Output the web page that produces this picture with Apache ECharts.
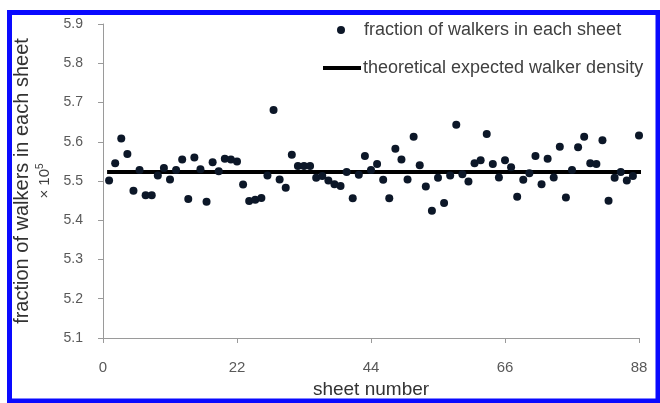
<!DOCTYPE html>
<html>
<head>
<meta charset="utf-8">
<style>
  html, body { margin: 0; padding: 0; background: #ffffff; }
  #chart { width: 660px; height: 403px; }
</style>
<script src="https://cdn.jsdelivr.net/npm/echarts@6/dist/echarts.min.js"></script>
</head>
<body>
<div id="chart"></div>
<script>
// Sheet index for each measurement
const sheetNumbers = [
  1, 2, 3, 4, 5, 6, 7, 8, 9, 10, 11, 12, 13, 14, 15, 16, 17, 18, 19, 20, 21, 22,
  23, 24, 25, 26, 27, 28, 29, 30, 31, 32, 33, 34, 35, 36, 37, 38, 39, 40, 41, 42, 43, 44,
  45, 46, 47, 48, 49, 50, 51, 52, 53, 54, 55, 56, 57, 58, 59, 60, 61, 62, 63, 64, 65, 66,
  67, 68, 69, 70, 71, 72, 73, 74, 75, 76, 77, 78, 79, 80, 81, 82, 83, 84, 85, 86, 87, 88
];

// Fraction of walkers found in each sheet (x 10^-5)
const walkerFraction = [
  5.501, 5.545, 5.608, 5.569, 5.475, 5.528, 5.464, 5.464, 5.514, 5.533, 5.504,
  5.528, 5.555, 5.454, 5.560, 5.530, 5.447, 5.548, 5.525, 5.557, 5.555, 5.550,
  5.491, 5.449, 5.452, 5.457, 5.514, 5.681, 5.504, 5.483, 5.567, 5.538, 5.538,
  5.538, 5.508, 5.513, 5.501, 5.492, 5.487, 5.523, 5.456, 5.516, 5.564, 5.528,
  5.543, 5.503, 5.456, 5.582, 5.555, 5.504, 5.613, 5.540, 5.486, 5.424, 5.508,
  5.444, 5.514, 5.643, 5.517, 5.499, 5.545, 5.553, 5.620, 5.543, 5.509, 5.553,
  5.535, 5.460, 5.503, 5.520, 5.564, 5.492, 5.557, 5.509, 5.587, 5.458, 5.528,
  5.586, 5.613, 5.545, 5.543, 5.604, 5.450, 5.508, 5.523, 5.501, 5.513, 5.616
];

// Theoretical expected density, drawn across the sheet range
const expectedSheets = [1, 88];
const expectedDensity = [5.523, 5.523];

// Axis settings
const xTicks = { min: 0, max: 88, interval: 22 };
const yTicks = { min: 5.1, max: 5.9, interval: 0.1 };

const seriesNames = ['fraction of walkers in each sheet', 'theoretical expected walker density'];

const scatterData = sheetNumbers.map((s, i) => [s, walkerFraction[i]]);
const lineData = expectedSheets.map((s, i) => [s, expectedDensity[i]]);

const FONT = '"Liberation Sans", Arial, sans-serif';
const axisGray = '#9a9a9a';

const chart = echarts.init(document.getElementById('chart'), null, { renderer: 'canvas' });

chart.setOption({
  backgroundColor: '#ffffff',
  animation: false,
  textStyle: { fontFamily: FONT },
  grid: { left: 103, right: 21, top: 24, bottom: 65, containLabel: false, outerBoundsMode: 'none' },
  graphic: [{
    type: 'rect',
    shape: { x: 9.5, y: 12.5, width: 648.5, height: 388.5 },
    style: { fill: 'none', stroke: '#0a0aff', lineWidth: 5 },
    z: 100
  }],
  legend: [{
    data: [{ name: seriesNames[0], icon: 'circle' }],
    left: 332, top: 16,
    itemWidth: 8, itemHeight: 8,
    textStyle: { fontSize: 18, color: '#404040', fontFamily: FONT, padding: [0, 0, 0, 14] },
    selectedMode: false
  }, {
    data: [{ name: seriesNames[1], icon: 'rect' }],
    left: 318, top: 54,
    itemWidth: 38, itemHeight: 4,
    textStyle: { fontSize: 18, color: '#404040', fontFamily: FONT, padding: [0, 0, 0, -3] },
    selectedMode: false
  }],
  xAxis: {
    type: 'value',
    min: xTicks.min, max: xTicks.max, interval: xTicks.interval,
    splitLine: { show: false },
    axisLine: { lineStyle: { color: axisGray, width: 1 } },
    axisTick: { show: true, length: 5, lineStyle: { color: axisGray } },
    axisLabel: { fontSize: 15, color: '#595959', margin: 22, fontFamily: FONT },
    name: 'sheet number',
    nameLocation: 'middle',
    nameGap: 33,
    nameTextStyle: { fontSize: 19, color: '#333333', fontFamily: FONT }
  },
  yAxis: {
    type: 'value',
    min: yTicks.min, max: yTicks.max, interval: yTicks.interval,
    splitLine: { show: false },
    axisLine: { show: true, lineStyle: { color: axisGray, width: 1 } },
    axisTick: { show: true, length: 5, lineStyle: { color: axisGray } },
    axisLabel: {
      fontSize: 14, color: '#595959', margin: 20, fontFamily: FONT,
      formatter: v => v.toFixed(1)
    },
    name: '{t|fraction of walkers in each sheet}\n{m|× 10}{s|5}',
    nameLocation: 'middle',
    nameRotate: 90,
    nameGap: 40,
    nameTextStyle: {
      fontFamily: FONT,
      rich: {
        t: { fontSize: 20, color: '#333333', lineHeight: 26, fontFamily: FONT },
        m: { fontSize: 15, color: '#404040', lineHeight: 20, fontFamily: FONT },
        s: { fontSize: 10, color: '#404040', lineHeight: 20, verticalAlign: 'top', padding: [0, 0, 6, 0], fontFamily: FONT }
      }
    }
  },
  series: [{
    name: seriesNames[0],
    type: 'scatter',
    data: scatterData,
    symbol: 'circle',
    symbolSize: 8,
    itemStyle: { color: '#0c1728', opacity: 1 },
    z: 3
  }, {
    name: seriesNames[1],
    type: 'line',
    data: lineData,
    showSymbol: false,
    symbol: 'none',
    lineStyle: { color: '#000000', width: 4, cap: 'square' },
    itemStyle: { color: '#000000' },
    z: 2
  }]
});
</script>
</body>
</html>
